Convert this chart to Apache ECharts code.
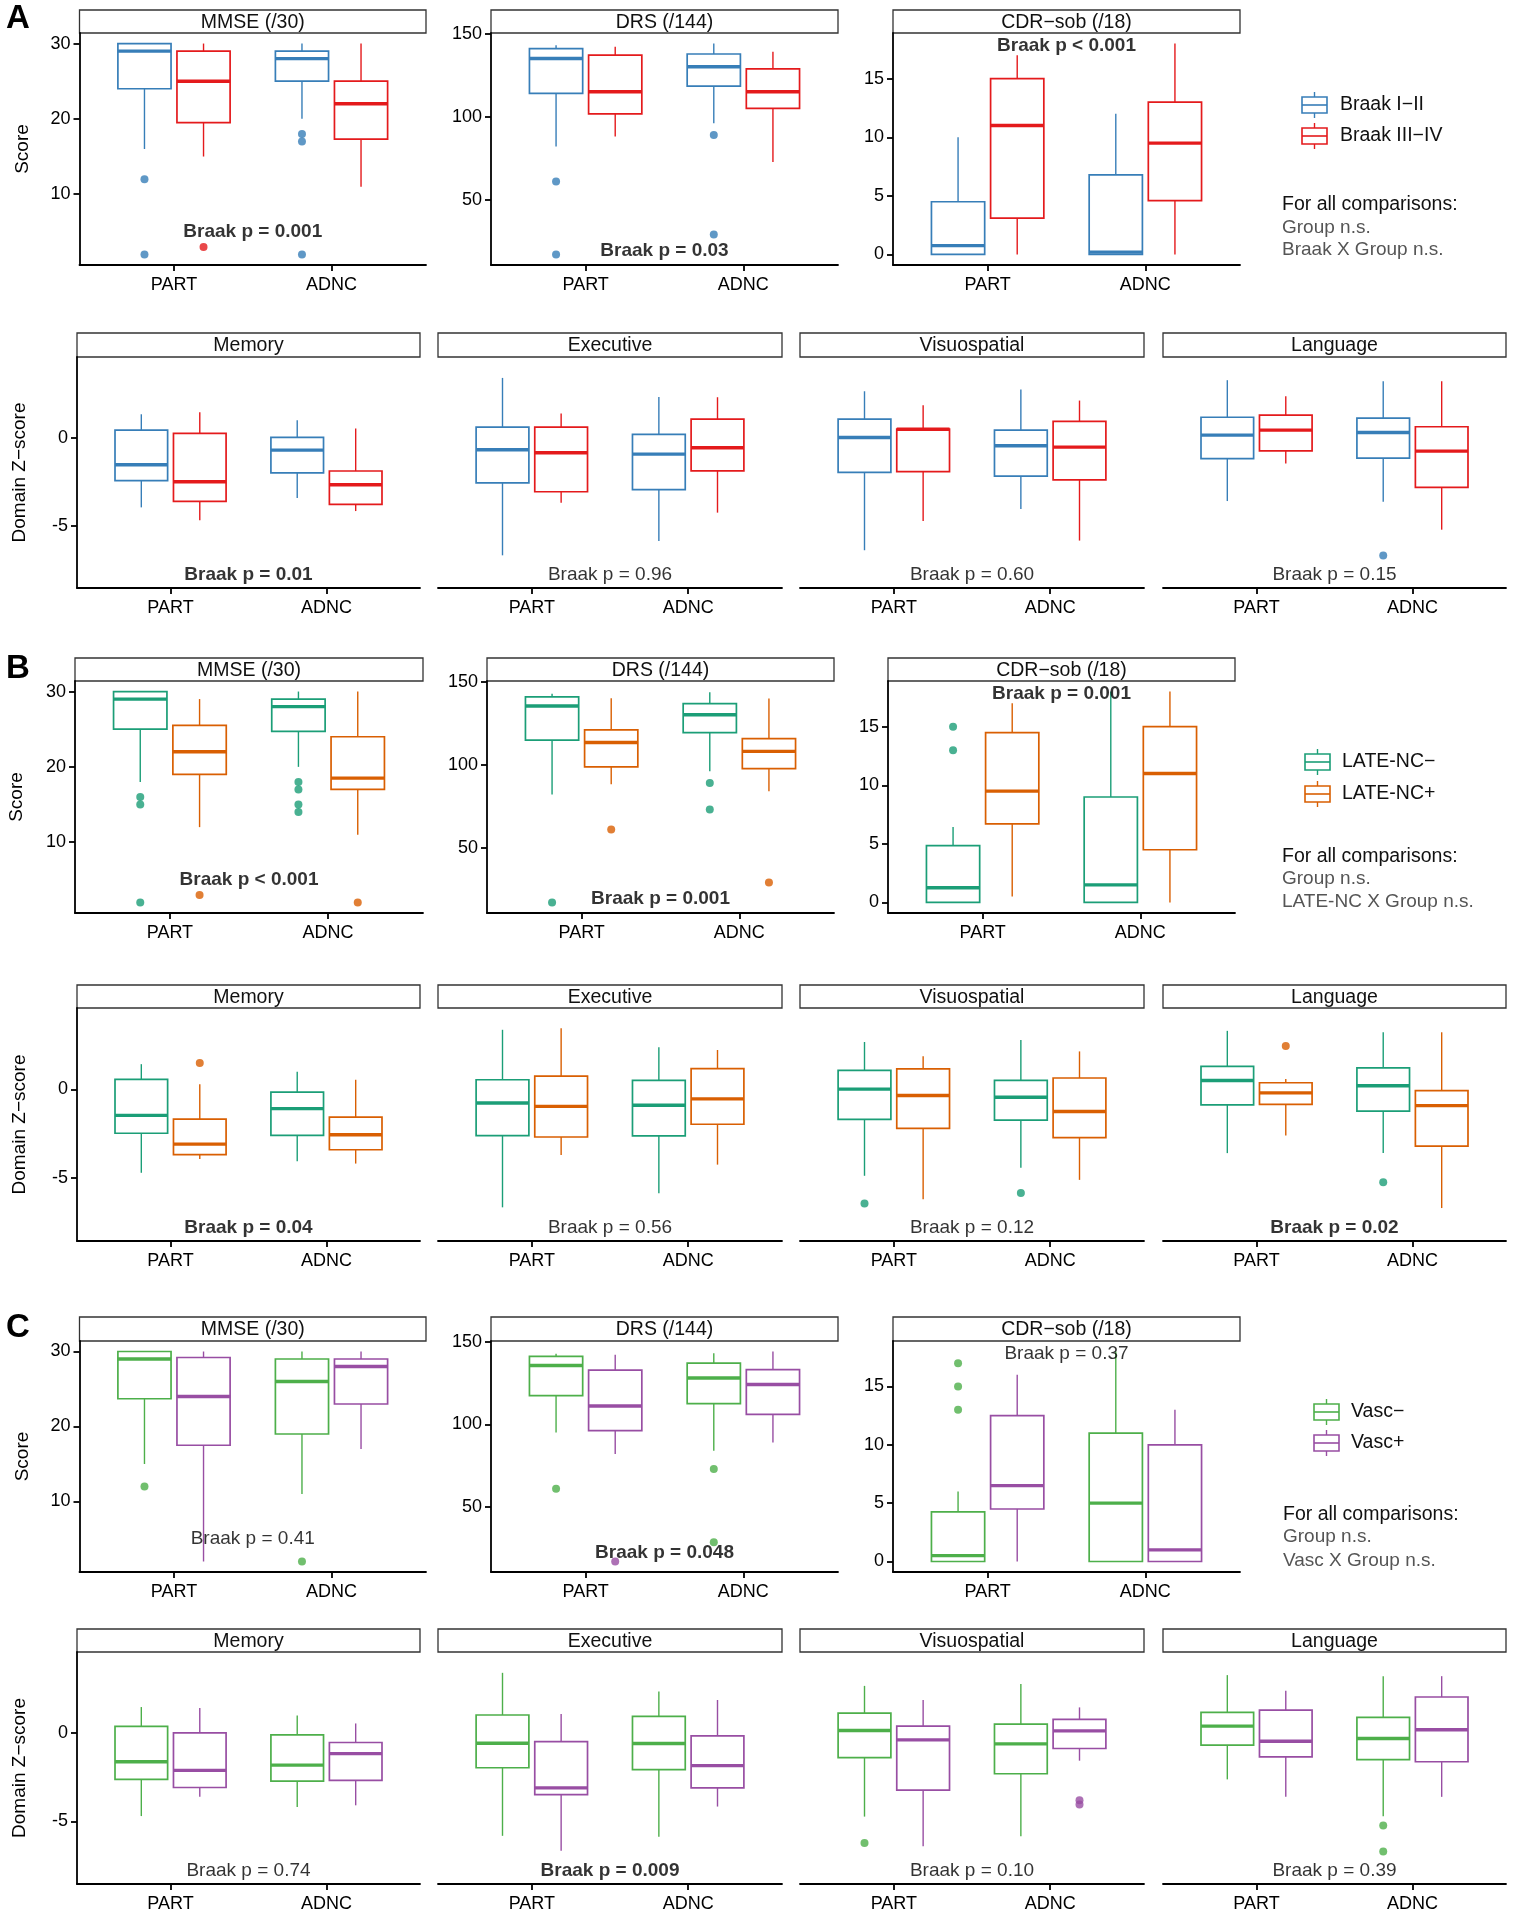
<!DOCTYPE html>
<html><head><meta charset="utf-8">
<script src="https://cdn.jsdelivr.net/npm/echarts@6/dist/echarts.min.js"></script>
<style>html,body{margin:0;padding:0;background:#fff}#c{width:1513px;height:1920px}</style>
</head><body><div id="c"></div>
<script>
// ---------------- DATA ----------------
const CATS = ['PART', 'ADNC'];
// box rows: [lowerWhisker, Q1, median, Q3, upperWhisker]; order: PART-g1, PART-g2, ADNC-g1, ADNC-g2
// outliers: [boxIndex, value]
const A_MMSE_box = [[16,24,29,30,30],[15,19.5,25,29,30],[20,25,28,29,30],[11,17.3,22,25,30]];
const A_MMSE_out = [[0,12],[0,2],[1,3],[2,18],[2,17],[2,2]];
const A_DRS_box = [[82,114,135,141,143],[88,101.7,115,137,142],[96,118.4,130,137.7,144],[72.7,105,115,128.7,139]];
const A_DRS_out = [[0,61],[0,17],[2,89],[2,29]];
const A_CDR_box = [[0,0,0.75,4.5,10],[0,3.1,11,15,17],[0,0,0.2,6.8,12],[0,4.6,9.5,13,18]];
const A_CDR_out = [];
const A_MEM_box = [[-3.96,-2.44,-1.53,0.44,1.34],[-4.7,-3.62,-2.5,0.25,1.46],[-3.43,-2.0,-0.7,0.02,1.0],[-4.17,-3.79,-2.67,-1.89,0.53]];
const A_MEM_out = [];
const A_EXE_box = [[-6.69,-2.56,-0.68,0.61,3.41],[-3.69,-3.07,-0.85,0.61,1.38],[-5.87,-2.95,-0.93,0.19,2.33],[-4.26,-1.88,-0.57,1.06,2.31]];
const A_EXE_out = [];
const A_VIS_box = [[-6.4,-1.97,0.02,1.06,2.65],[-4.73,-1.93,0.49,0.49,1.86],[-4.05,-2.18,-0.45,0.44,2.75],[-5.85,-2.4,-0.53,0.93,2.12]];
const A_VIS_out = [];
const A_LAN_box = [[-3.6,-1.19,0.15,1.17,3.28],[-1.46,-0.74,0.44,1.29,2.37],[-3.64,-1.16,0.3,1.12,3.22],[-5.23,-2.82,-0.76,0.63,3.22]];
const A_LAN_out = [[2,-6.7]];

const B_MMSE_box = [[18,25,29,30,30],[12,19,22,25.5,29],[20,24.7,28,29,30],[11,17,18.5,24,30]];
const B_MMSE_out = [[0,16],[0,15],[0,2],[1,3],[2,18],[2,17],[2,15],[2,14],[3,2]];
const B_DRS_box = [[82,114.7,135.3,140.8,142.6],[88.2,98.6,113.3,120.9,140],[96,119.3,130,136.7,143.6],[84,97.6,108,115.7,139.8]];
const B_DRS_out = [[0,17],[1,61],[2,89],[2,73],[3,29]];
const B_CDR_box = [[0,0,1.25,4.85,6.45],[0.5,6.7,9.5,14.5,17],[0,0,1.5,9,18],[0,4.5,11,15,18]];
const B_CDR_out = [[0,15],[0,13]];
const B_MEM_box = [[-4.7,-2.47,-1.46,0.57,1.43],[-3.92,-3.67,-3.08,-1.67,0.29],[-4.05,-2.59,-1.08,-0.15,1.0],[-4.18,-3.4,-2.55,-1.56,0.55]];
const B_MEM_out = [[1,1.5]];
const B_EXE_box = [[-6.65,-2.6,-0.76,0.55,3.37],[-3.69,-2.68,-0.95,0.76,3.46],[-5.86,-2.62,-0.89,0.51,2.38],[-4.24,-1.96,-0.53,1.18,2.23]];
const B_EXE_out = [];
const B_VIS_box = [[-4.87,-1.69,0.02,1.08,2.68],[-6.2,-2.19,-0.34,1.16,1.88],[-4.41,-1.73,-0.44,0.51,2.79],[-5.1,-2.72,-1.24,0.65,2.15]];
const B_VIS_out = [[0,-6.43],[2,-5.84]];
const B_LAN_box = [[-3.59,-0.87,0.51,1.31,3.31],[-2.59,-0.84,-0.19,0.38,0.59],[-3.59,-1.22,0.21,1.22,3.23],[-6.69,-3.19,-0.91,-0.06,3.23]];
const B_LAN_out = [[1,2.45],[2,-5.23]];

const C_MMSE_box = [[15,23.7,29,30,30],[2,17.5,24,29.2,30],[11,19,26,29,30],[17,23,28,29,30]];
const C_MMSE_out = [[0,12],[2,2]];
const C_DRS_box = [[95,117.3,135.5,141,142.7],[82,96.2,111,132.7,142],[84,112.5,128,137,143],[89,106,124,133,144]];
const C_DRS_out = [[0,61],[1,17],[2,73],[2,28.6]];
const C_CDR_box = [[0,0,0.5,4.25,6],[0,4.5,6.5,12.5,16],[0,0,5,11,18],[0,0,1,10,13]];
const C_CDR_out = [[0,17],[0,15],[0,13]];
const C_MEM_box = [[-4.7,-2.62,-1.62,0.38,1.48],[-3.61,-3.08,-2.11,0.02,1.43],[-4.18,-2.72,-1.81,-0.1,1.0],[-4.09,-2.68,-1.16,-0.53,0.55]];
const C_MEM_out = [];
const C_EXE_box = [[-5.82,-1.96,-0.57,1.03,3.42],[-6.67,-3.48,-3.1,-0.48,1.08],[-5.87,-2.07,-0.59,0.95,2.36],[-4.16,-3.1,-1.84,-0.15,1.88]];
const C_EXE_out = [];
const C_VIS_box = [[-4.73,-1.39,0.15,1.14,2.68],[-6.41,-3.23,-0.38,0.4,1.88],[-5.84,-2.3,-0.61,0.51,2.79],[-1.56,-0.87,0.13,0.78,1.46]];
const C_VIS_out = [[0,-6.22],[3,-3.8],[3,-4.05]];
const C_LAN_box = [[-2.62,-0.68,0.4,1.18,3.29],[-3.61,-1.35,-0.46,1.31,2.41],[-4.71,-1.5,-0.3,0.89,3.23],[-3.61,-1.62,0.19,2.05,3.23]];
const C_LAN_out = [[2,-5.23],[2,-6.71]];

// p-value annotations: [text, y, bold]
const A_P = [['Braak p = 0.001',5,1],['Braak p = 0.03',19,1],['Braak p < 0.001',17.85,1],['Braak p = 0.01',-7.8,1],['Braak p = 0.96',-7.8,0],['Braak p = 0.60',-7.8,0],['Braak p = 0.15',-7.8,0]];
const B_P = [['Braak p < 0.001',5,1],['Braak p = 0.001',19,1],['Braak p = 0.001',17.8,1],['Braak p = 0.04',-7.8,1],['Braak p = 0.56',-7.8,0],['Braak p = 0.12',-7.8,0],['Braak p = 0.02',-7.8,1]];
const C_P = [['Braak p = 0.41',5,0],['Braak p = 0.048',22,1],['Braak p = 0.37',17.8,0],['Braak p = 0.74',-7.8,0],['Braak p = 0.009',-7.8,1],['Braak p = 0.10',-7.8,0],['Braak p = 0.39',-7.8,0]];

const STRIPS = ['MMSE (/30)','DRS (/144)','CDR\u2212sob (/18)','Memory','Executive','Visuospatial','Language'];
const Y_RANGES = [[0.6,31.4],[10.65,150.35],[-0.9,18.9],[-8.55,4.6],[-8.55,4.6],[-8.55,4.6],[-8.55,4.6]];
const Y_TICKS = [[10,20,30],[50,100,150],[0,5,10,15],[-5,0],[-5,0],[-5,0],[-5,0]];

const A_COLORS = ['#377EB8','#E41A1C'];
const B_COLORS = ['#1B9E77','#D95F02'];
const C_COLORS = ['#4DAF4A','#984EA3'];
const A_LEG = ['Braak I\u2212II','Braak III\u2212IV'];
const B_LEG = ['LATE-NC\u2212','LATE-NC+'];
const C_LEG = ['Vasc\u2212','Vasc+'];
const NOTE_HEAD = 'For all comparisons:';
const NOTE_1 = 'Group n.s.';
const A_NOTE = 'Braak X Group n.s.';
const B_NOTE = 'LATE-NC X Group n.s.';
const C_NOTE = 'Vasc X Group n.s.';

// ---------------- LAYOUT ----------------
const FONT = '"Liberation Sans", Arial, sans-serif';
const BOTTOM_XS = [[77,420],[438,782],[800,1144],[1163,1506]];
const ROWS = [
  {letter:'A', letterY:19, colors:A_COLORS, leg:A_LEG, note:A_NOTE, P:A_P,
   boxes:[A_MMSE_box,A_DRS_box,A_CDR_box,A_MEM_box,A_EXE_box,A_VIS_box,A_LAN_box],
   outs:[A_MMSE_out,A_DRS_out,A_CDR_out,A_MEM_out,A_EXE_out,A_VIS_out,A_LAN_out],
   top:{strip:10,y0:33,y1:265,xs:[[79.5,426],[491,838],[893,1240]],scoreGap:47},
   bot:{strip:333,y0:357,y1:588},
   legend:{keyX:1302,textX:1340,ys:[105,136],noteX:1282,noteYs:[205,228,250]}},
  {letter:'B', letterY:669, colors:B_COLORS, leg:B_LEG, note:B_NOTE, P:B_P,
   boxes:[B_MMSE_box,B_DRS_box,B_CDR_box,B_MEM_box,B_EXE_box,B_VIS_box,B_LAN_box],
   outs:[B_MMSE_out,B_DRS_out,B_CDR_out,B_MEM_out,B_EXE_out,B_VIS_out,B_LAN_out],
   top:{strip:658,y0:681,y1:913,xs:[[75,423],[487,834],[888,1235]],scoreGap:49},
   bot:{strip:985,y0:1008,y1:1241},
   legend:{keyX:1305,textX:1342,ys:[762,794],noteX:1282,noteYs:[857,879,902]}},
  {letter:'C', letterY:1328, colors:C_COLORS, leg:C_LEG, note:C_NOTE, P:C_P,
   boxes:[C_MMSE_box,C_DRS_box,C_CDR_box,C_MEM_box,C_EXE_box,C_VIS_box,C_LAN_box],
   outs:[C_MMSE_out,C_DRS_out,C_CDR_out,C_MEM_out,C_EXE_out,C_VIS_out,C_LAN_out],
   top:{strip:1317,y0:1341,y1:1572,xs:[[79.5,426],[491,838],[893,1240]],scoreGap:47},
   bot:{strip:1629,y0:1652,y1:1884},
   legend:{keyX:1314,textX:1351,ys:[1412,1443],noteX:1283,noteYs:[1515,1537,1561]}}
];
const DODGE = 0.1875, HALF = 0.16875;

function makeRender(colors){
  return function(params, api){
    const idx = api.value(0);
    const cat = Math.floor(idx/2)+1, g = idx%2;
    const xc = cat + (g===0 ? -DODGE : DODGE);
    const lo=api.value(1), q1=api.value(2), md=api.value(3), q3=api.value(4), hi=api.value(5);
    const c = colors[g];
    const pTop = api.coord([xc, hi]), pQ3 = api.coord([xc, q3]), pQ1 = api.coord([xc, q1]), pLo = api.coord([xc, lo]);
    const a = api.coord([xc-HALF, q3]), b = api.coord([xc+HALF, q1]);
    const m1 = api.coord([xc-HALF, md]), m2 = api.coord([xc+HALF, md]);
    return {type:'group', children:[
      {type:'line', shape:{x1:pTop[0],y1:pTop[1],x2:pQ3[0],y2:pQ3[1]}, style:{stroke:c,lineWidth:1.4}},
      {type:'line', shape:{x1:pQ1[0],y1:pQ1[1],x2:pLo[0],y2:pLo[1]}, style:{stroke:c,lineWidth:1.4}},
      {type:'rect', shape:{x:a[0],y:a[1],width:b[0]-a[0],height:b[1]-a[1]}, style:{stroke:c,fill:'#fff',lineWidth:1.7}},
      {type:'line', shape:{x1:m1[0],y1:m1[1],x2:m2[0],y2:m2[1]}, style:{stroke:c,lineWidth:3.4}}
    ]};
  };
}

const grids=[], xAxes=[], yAxes=[], series=[], graphics=[];
ROWS.forEach(row => {
  graphics.push({type:'text', left:6, top:row.letterY-17, style:{text:row.letter, font:'bold 33px '+FONT, fill:'#000'}});
  for (let p=0; p<7; p++){
    const isTop = p<3;
    const L = isTop ? row.top : row.bot;
    const xs = isTop ? row.top.xs[p] : BOTTOM_XS[p-3];
    const gi = grids.length;
    grids.push({left:xs[0], top:L.y0, width:xs[1]-xs[0], height:L.y1-L.y0});
    graphics.push({type:'rect', shape:{x:xs[0], y:L.strip, width:xs[1]-xs[0], height:L.y0-L.strip}, style:{fill:'#fff', stroke:'#333', lineWidth:1.3}});
    graphics.push({type:'text', x:(xs[0]+xs[1])/2, y:(L.strip+L.y0)/2+1, style:{text:STRIPS[p], font:'19.5px '+FONT, fill:'#111', align:'center', verticalAlign:'middle'}});
    const showY = isTop || p===3;
    let yName = '', yGap = 0;
    if (p===0){ yName='Score'; yGap=row.top.scoreGap; }
    if (p===3){ yName='Domain Z\u2212score'; yGap=48; }
    xAxes.push({gridIndex:gi, type:'value', min:0.4, max:2.6, splitLine:{show:false},
      axisLine:{show:true, onZero:false, lineStyle:{color:'#000', width:1.8}},
      axisTick:{show:true, customValues:[1,2], length:6, lineStyle:{color:'#000', width:1.8}},
      axisLabel:{show:true, customValues:[1,2], formatter:v=>CATS[Math.round(v)-1], color:'#000', fontSize:18, fontFamily:FONT, margin:11}});
    yAxes.push({gridIndex:gi, type:'value', min:Y_RANGES[p][0], max:Y_RANGES[p][1], splitLine:{show:false},
      axisLine:{show:showY, onZero:false, lineStyle:{color:'#000', width:1.8}},
      axisTick:{show:showY, customValues:Y_TICKS[p], length:6, lineStyle:{color:'#000', width:1.8}},
      axisLabel:{show:showY, customValues:Y_TICKS[p], color:'#000', fontSize:18, fontFamily:FONT, margin:9},
      name:yName, nameLocation:'middle', nameGap:yGap, nameTextStyle:{fontSize:19, fontFamily:FONT, color:'#000'}});
    const bx = row.boxes[p].map((b,i)=>[i].concat(b));
    series.push({type:'custom', xAxisIndex:gi, yAxisIndex:gi, renderItem:makeRender(row.colors), data:bx, silent:true, clip:false});
    const od = row.outs[p].map(o=>{
      const cat = Math.floor(o[0]/2)+1, g=o[0]%2;
      return {value:[cat+(g===0?-DODGE:DODGE), o[1]], itemStyle:{color:row.colors[g]}};
    });
    series.push({type:'scatter', xAxisIndex:gi, yAxisIndex:gi, symbolSize:8, data:od, silent:true});
    const pt = row.P[p];
    series.push({type:'scatter', xAxisIndex:gi, yAxisIndex:gi, symbolSize:1, itemStyle:{color:'rgba(0,0,0,0)'}, silent:true, z:5,
      data:[{value:[1.5, pt[1]]}],
      label:{show:true, position:'inside', formatter:pt[0], fontSize:19, fontFamily:FONT, fontWeight:pt[2]?'bold':'normal', color:'#000'}});
  }
  const lg = row.legend;
  row.leg.forEach((name,i)=>{
    const y = lg.ys[i], c = row.colors[i], cx = lg.keyX+12.5;
    graphics.push({type:'line', shape:{x1:cx,y1:y-13,x2:cx,y2:y+13}, style:{stroke:c,lineWidth:1.4}});
    graphics.push({type:'rect', shape:{x:lg.keyX,y:y-8,width:25,height:16}, style:{stroke:c,fill:'#fff',lineWidth:1.6}});
    graphics.push({type:'line', shape:{x1:lg.keyX,y1:y,x2:lg.keyX+25,y2:y}, style:{stroke:c,lineWidth:1.6}});
    graphics.push({type:'text', x:lg.textX, y:y, style:{text:name, font:'19.5px '+FONT, fill:'#111', verticalAlign:'middle'}});
  });
  graphics.push({type:'text', x:lg.noteX, y:lg.noteYs[0], style:{text:NOTE_HEAD, font:'19.5px '+FONT, fill:'#111', verticalAlign:'middle'}});
  graphics.push({type:'text', x:lg.noteX, y:lg.noteYs[1], style:{text:NOTE_1, font:'19px '+FONT, fill:'#555', verticalAlign:'middle'}});
  graphics.push({type:'text', x:lg.noteX, y:lg.noteYs[2], style:{text:row.note, font:'19px '+FONT, fill:'#555', verticalAlign:'middle'}});
});

const chart = echarts.init(document.getElementById('c'), null, {renderer:'canvas'});
chart.setOption({backgroundColor:'#fff', animation:false, grid:grids, xAxis:xAxes, yAxis:yAxes, series:series, graphic:graphics});
</script></body></html>
